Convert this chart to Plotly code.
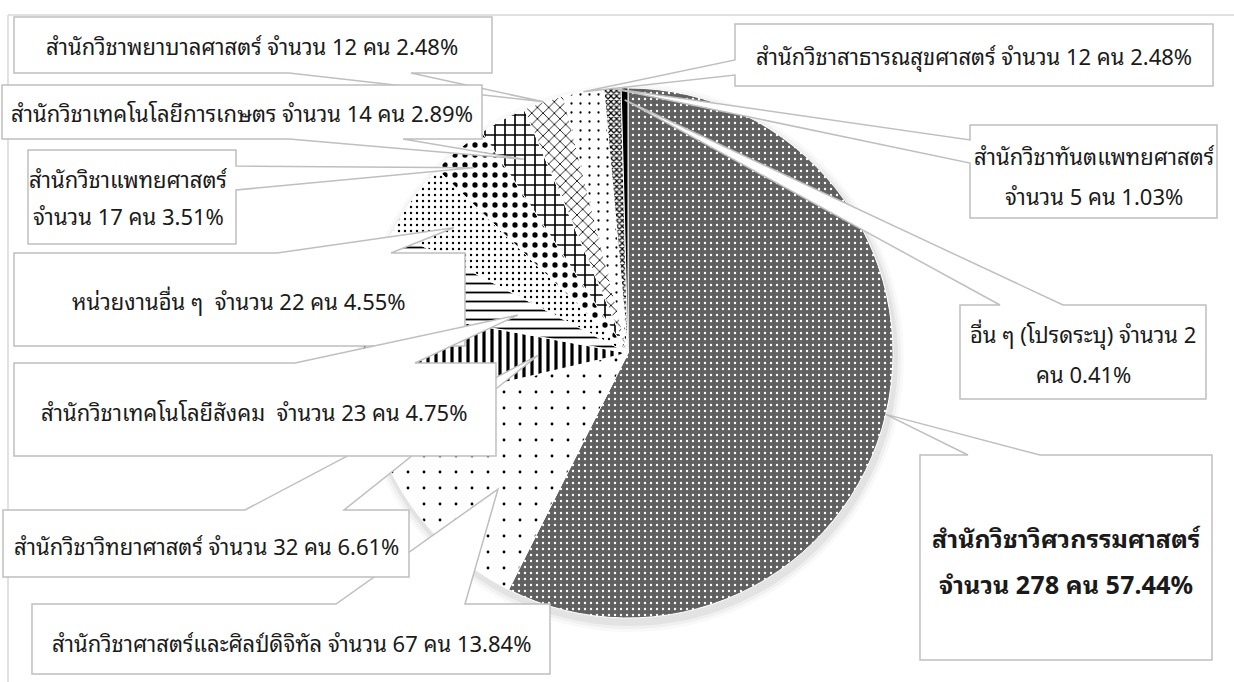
import math
import plotly.graph_objects as go

W, H = 1234, 682

# ---------------- data ----------------
labels = [
    "สำนักวิชาวิศวกรรมศาสตร์",
    "สำนักวิชาศาสตร์และศิลป์ดิจิทัล",
    "สำนักวิชาวิทยาศาสตร์",
    "สำนักวิชาเทคโนโลยีสังคม",
    "หน่วยงานอื่น ๆ",
    "สำนักวิชาแพทยศาสตร์",
    "สำนักวิชาเทคโนโลยีการเกษตร",
    "สำนักวิชาพยาบาลศาสตร์",
    "สำนักวิชาสาธารณสุขศาสตร์",
    "สำนักวิชาทันตแพทยศาสตร์",
    "อื่น ๆ (โปรดระบุ)",
]
counts = [278, 67, 32, 23, 22, 17, 14, 12, 12, 5, 2]
percents = ["57.44%", "13.84%", "6.61%", "4.75%", "4.55%", "3.51%",
            "2.89%", "2.48%", "2.48%", "1.03%", "0.41%"]

# label text lines as shown in the callouts
label_lines = [
    ["สำนักวิชาวิศวกรรมศาสตร์", "จำนวน 278 คน 57.44%"],
    ["สำนักวิชาศาสตร์และศิลป์ดิจิทัล จำนวน 67 คน 13.84%"],
    ["สำนักวิชาวิทยาศาสตร์ จำนวน 32 คน 6.61%"],
    ["สำนักวิชาเทคโนโลยีสังคม  จำนวน 23 คน 4.75%"],
    ["หน่วยงานอื่น ๆ  จำนวน 22 คน 4.55%"],
    ["สำนักวิชาแพทยศาสตร์", "จำนวน 17 คน 3.51%"],
    ["สำนักวิชาเทคโนโลยีการเกษตร จำนวน 14 คน 2.89%"],
    ["สำนักวิชาพยาบาลศาสตร์ จำนวน 12 คน 2.48%"],
    ["สำนักวิชาสาธารณสุขศาสตร์ จำนวน 12 คน 2.48%"],
    ["สำนักวิชาทันตแพทยศาสตร์", "จำนวน 5 คน 1.03%"],
    ["อื่น ๆ (โปรดระบุ) จำนวน 2", "คน 0.41%"],
]

# ---------------- styles ----------------
pat_shape = [".", ".", "|", "-", ".", ".", "+", "x", ".", "x", ""]
pat_size = [6, 16, 8, 9, 6, 10, 10, 8, 9, 4, 8]
pat_solid = [0.12, 0.025, 0.4, 0.2, 0.12, 0.22, 0.3, 0.2, 0.05, 0.5, 0.3]
pat_fg = ["white"] + ["black"] * 10
pat_bg = ["#606060"] + ["white"] * 10
slice_colors = ["#606060"] + ["white"] * 9 + ["black"]

FONT = "Noto Sans Thai Looped, Leelawadee UI, Tahoma, Noto Sans Thai, Noto Sans, sans-serif"
GRAY = "#bfbfbf"

# pie placement (pixels)
CX, CY, R = 628, 353, 265


def px(x):
    return x / W


def py(y):
    return 1 - y / H


fig = go.Figure()
fig.add_trace(go.Pie(
    labels=labels, values=counts, sort=False, direction="clockwise",
    rotation=0, textinfo="none", hoverinfo="label+value+percent",
    domain=dict(x=[px(CX - R), px(CX + R)], y=[py(CY + R), py(CY - R)]),
    marker=dict(
        colors=slice_colors,
        line=dict(color="white", width=1),
        pattern=dict(shape=pat_shape, size=pat_size, solidity=pat_solid,
                     fgcolor=pat_fg, bgcolor=pat_bg, fgopacity=1,
                     fillmode="overlay"),
    ),
    showlegend=False,
))

# slice mid angles (clockwise from 12 o'clock), from the data
total = sum(counts)
mids = []
acc = 0
for c in counts:
    mids.append((acc + c / 2) / total * 360)
    acc += c

# callout boxes: (x0, y0, x1, y1), wedge edge, base positions, tip radius fraction,
# tip angle offset, text line centres
callouts = {
    7: dict(box=(14, 17, 492, 73), edge="bottom", base=(289, 411), f=1.0, da=0, tx=252, ty=[45]),
    6: dict(box=(2, 85, 482, 139), edge="bottom", base=(289, 403), f=0.83, da=0, tx=242, ty=[112]),
    5: dict(box=(28, 150, 236, 244), edge="right", base=(166, 190), f=0.91, da=0, tx=128, ty=[178, 215]),
    4: dict(box=(14, 253, 465, 346), edge="top", base=(277, 391), f=0.81, da=0, tx=239, ty=[300]),
    1: dict(box=(32, 604, 550, 674), edge="top", base=(336, 465), f=0.71, da=-8, tx=291, ty=[642]),
    2: dict(box=(3, 510, 409, 577), edge="top", base=(245, 344), f=0.34, da=0, tx=206, ty=[545]),
    3: dict(box=(14, 363, 496, 456), edge="top", base=(295, 415), f=0.44, da=0, tx=254, ty=[411]),
    8: dict(box=(735, 24, 1213, 86), edge="left", base=(60, 75), f=1.0, da=0, tx=974, ty=[55]),
    9: dict(box=(970, 125, 1217, 218), edge="left", base=(140, 163), f=1.0, da=0, tx=1094, ty=[155, 195]),
    10: dict(box=(960, 305, 1206, 399), edge="top", base=(1000, 1063), f=0.955, da=0, tx=1083, ty=[333, 373]),
    0: dict(box=(920, 455, 1212, 660), edge="top", base=(968, 1040), f=1.0, da=0, tx=1066, ty=[537, 583]),
}
order = [7, 6, 5, 4, 1, 2, 3, 8, 9, 10, 0]

shapes = []
# chart frame (top and left edges visible)
shapes.append(dict(type="line", xref="paper", yref="paper", x0=px(8), x1=px(1240),
                   y0=py(15), y1=py(15), line=dict(color="#d9d9d9", width=1.5), layer="below"))
shapes.append(dict(type="line", xref="paper", yref="paper", x0=px(8), x1=px(8),
                   y0=py(15), y1=py(690), line=dict(color="#d9d9d9", width=1.5), layer="below"))
# soft pie shadow
for k, op in [(9, 0.025), (6, 0.035), (3, 0.05)]:
    shapes.append(dict(type="circle", xref="paper", yref="paper",
                       x0=px(CX - R - k + 2), x1=px(CX + R + k + 2),
                       y0=py(CY + R + k + 5), y1=py(CY - R - k + 5),
                       fillcolor=f"rgba(0,0,0,{op})", line=dict(width=0), layer="below"))


def P(x, y):
    return f"{px(x):.5f},{py(y):.5f}"


annotations = []
for i in order:
    c = callouts[i]
    x0, y0, x1, y1 = c["box"]
    a = math.radians(mids[i] + c["da"])
    tipx = CX + c["f"] * R * math.sin(a)
    tipy = CY - c["f"] * R * math.cos(a)
    b1, b2 = c["base"]
    pts = [(x0, y0)]
    if c["edge"] == "top":
        pts += [(b1, y0), (tipx, tipy), (b2, y0)]
    pts += [(x1, y0)]
    if c["edge"] == "right":
        pts += [(x1, b1), (tipx, tipy), (x1, b2)]
    pts += [(x1, y1)]
    if c["edge"] == "bottom":
        pts += [(b2, y1), (tipx, tipy), (b1, y1)]
    pts += [(x0, y1)]
    if c["edge"] == "left":
        pts += [(x0, b2), (tipx, tipy), (x0, b1)]
    path = "M " + " L ".join(P(x, y) for x, y in pts) + " Z"
    shapes.append(dict(type="path", xref="paper", yref="paper", path=path,
                       fillcolor="white", line=dict(color=GRAY, width=1.5), layer="above"))
    bold = (i == 0)
    for line, ty in zip(label_lines[i], c["ty"]):
        txt = f"<b>{line}</b>" if bold else line
        annotations.append(dict(
            xref="paper", yref="paper", x=px(c["tx"]), y=py(ty),
            xanchor="center", yanchor="middle", showarrow=False, text=txt,
            font=dict(family=FONT, size=25 if bold else 22, color="#1a1a1a"),
        ))

fig.update_layout(
    width=W, height=H,
    margin=dict(l=0, r=0, t=0, b=0),
    paper_bgcolor="white", plot_bgcolor="white",
    shapes=shapes, annotations=annotations,
    showlegend=False,
)
fig.write_html("out.html", config={"displayModeBar": False},
               post_script="document.body.style.margin='0px';"
                           "document.body.style.overflow='hidden';")
